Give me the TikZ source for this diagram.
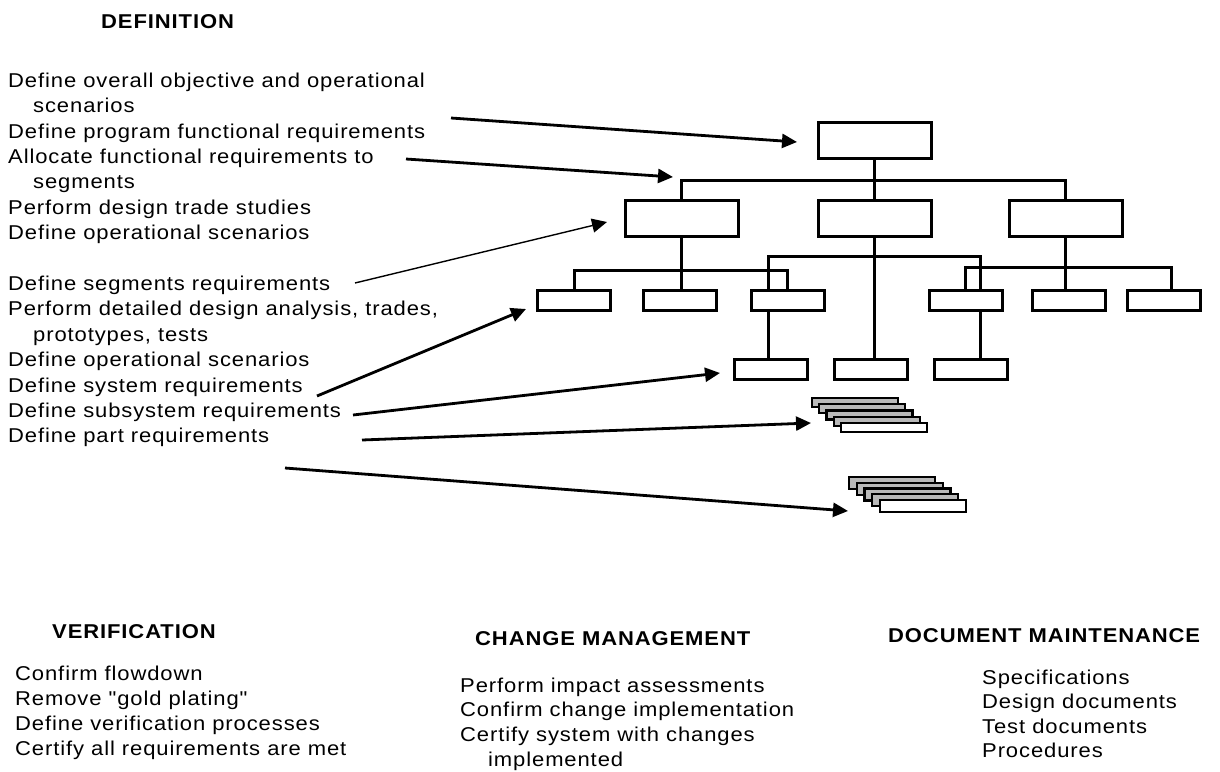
\documentclass[tikz,border=0pt]{standalone}
\usepackage{fontspec}
\setmainfont{Liberation Sans}[FakeStretch=1.1,LetterSpace=4.5,Ligatures=TeXOff]
\usetikzlibrary{arrows.meta}
\pgfdeclarelayer{background}
\pgfsetlayers{background,main}
\begin{document}
\begin{tikzpicture}[x=1pt,y=-1pt,
  conn/.style={draw,line width=3pt},
  big/.style={draw,line width=3pt,fill=white,inner sep=0pt,outer sep=0pt,
    minimum width=113pt,minimum height=36pt},
  small/.style={draw,line width=3pt,fill=white,inner sep=0pt,outer sep=0pt,
    minimum width=73pt,minimum height=20pt},
  txt/.style={inner sep=0pt,anchor=base west,font=\fontsize{20}{24}\selectfont},
  head/.style={txt,font=\fontsize{20}{24}\selectfont\bfseries},
  arr/.style={line width=2.8pt,-{Triangle[length=15pt,width=14pt]}},
  thinarr/.style={line width=1.4pt,-{Triangle[length=15pt,width=14pt]}},
  sheet/.style={draw,line width=2.2pt,fill=gray!55},
  lastsheet/.style={draw,line width=2.2pt,fill=white}]

\useasboundingbox (0,0) rectangle (1220,771);

% ---- headings ----
\node[head] (hdef) at (101,28) {DEFINITION};
\node[head] (hver) at (52,638) {VERIFICATION};
\node[head] (hchg) at (475,645) {CHANGE MANAGEMENT};
\node[head] (hdoc) at (888,642) {DOCUMENT MAINTENANCE};

% ---- definition activities ----
\foreach \k/\xx/\t in {
  0/8/{Define overall objective and operational},
  1/33/{scenarios},
  2/8/{Define program functional requirements},
  3/8/{Allocate functional requirements to},
  4/33/{segments},
  5/8/{Perform design trade studies},
  6/8/{Define operational scenarios},
  8/8/{Define segments requirements},
  9/8/{Perform detailed design analysis, trades,},
  10/33/{prototypes, tests},
  11/8/{Define operational scenarios},
  12/8/{Define system requirements},
  13/8/{Define subsystem requirements},
  14/8/{Define part requirements}}
  \node[txt] (def\k) at (\xx,{87.3+25.4*\k}) {\t};

% ---- verification ----
\foreach \k/\t in {0/{Confirm flowdown},1/{Remove "gold plating"},
  2/{Define verification processes},3/{Certify all requirements are met}}
  \node[txt] (ver\k) at (15,{680+25*\k}) {\t};

% ---- change management ----
\foreach \k/\xx/\t in {0/460/{Perform impact assessments},
  1/460/{Confirm change implementation},
  2/460/{Certify system with changes},3/488/{implemented}}
  \node[txt] (chg\k) at (\xx,{692+24.7*\k}) {\t};

% ---- document maintenance ----
\foreach \k/\t in {0/{Specifications},1/{Design documents},
  2/{Test documents},3/{Procedures}}
  \node[txt] (doc\k) at (982,{684+24.6*\k}) {\t};

% ---- hierarchy boxes ----
\node[big] (t0) at (874.5,140.5) {};
\node[big] (m1) at (681.5,218.5) {};
\node[big] (m2) at (874.5,218.5) {};
\node[big] (m3) at (1065.5,218.5) {};
\node[small] (s1) at (574,300.5) {};
\node[small] (s2) at (679.5,300.5) {};
\node[small] (s3) at (787.5,300.5) {};
\node[small] (s4) at (965.5,300.5) {};
\node[small] (s5) at (1068.5,300.5) {};
\node[small] (s6) at (1164,300) {};
\node[small] (b1) at (771,369.5) {};
\node[small] (b2) at (871,369.5) {};
\node[small] (b3) at (971,369.5) {};

\coordinate (y1) at (0,180);
\coordinate (y2) at (0,270);
\coordinate (p1) at (768,256);
\coordinate (p2) at (980,256);
\coordinate (q1) at (0,267);
\coordinate (q2) at (1171,267);

\begin{pgfonlayer}{background}
  \fill[white] (0,0) rectangle (1220,771);
  \path[conn] (t0.south) -- (m2.north);
  \path[conn] (m1.north) -- (m1.north |- y1) -- (m3.north |- y1) -- (m3.north);
  \path[conn] (m1.south) -- (m1.south |- s2.north);
  \path[conn] (s1.north) -- (s1.north |- y2) -- (s3.north |- y2) -- (s3.north);
  \path[conn] (m2.south) -- (m2.south |- b2.north);
  \path[conn] (b1.north -| p1) -- (p1) -- (p2) -- (b3.north -| p2);
  \path[conn] (m3.south) -- (m3.south |- s5.north);
  \path[conn] (s4.north) -- (s4.north |- q1) -- (q2) -- (s6.north -| q2);
\end{pgfonlayer}

% ---- stacks of documents ----
\foreach \i in {0,...,3}
  \draw[sheet] ({812+7.25*\i},{398+6.25*\i}) rectangle ++(86,9);
\draw[lastsheet] (841,423) rectangle ++(86,9);
\coordinate (st1) at (811,423);

\foreach \i in {0,...,3}
  \draw[sheet] ({849+7.75*\i},{477+5.75*\i}) rectangle ++(86,12);
\draw[lastsheet] (880,500) rectangle ++(86,12);
\coordinate (st2) at (848,511);

% ---- flow arrows ----
\coordinate (a1) at (451,118);
\coordinate (e1) at (797,142);
\coordinate (a2) at (406,159);
\coordinate (e2) at (673,177);
\coordinate (a3) at (355,283);
\coordinate (e3) at (607,222);
\coordinate (a4) at (317,396);
\coordinate (e4) at (526,309);
\coordinate (a5) at (353,415);
\coordinate (e5) at (720,373);
\coordinate (a6) at (362,440);
\coordinate (a7) at (285,468);

\draw[arr] (a1) -- (e1);
\draw[arr] (a2) -- (e2);
\draw[thinarr] (a3) -- (e3);
\draw[arr] (a4) -- (e4);
\draw[arr] (a5) -- (e5);
\draw[arr] (a6) -- (st1);
\draw[arr] (a7) -- (st2);
\end{tikzpicture}
\end{document}
